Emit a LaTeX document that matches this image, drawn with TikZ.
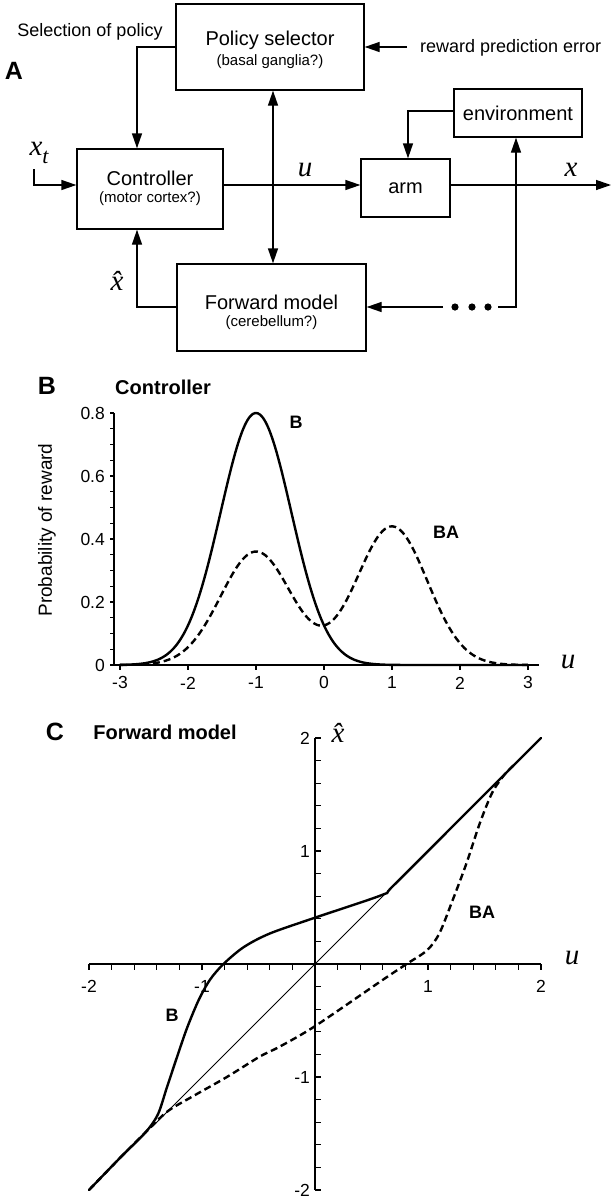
\documentclass[tikz,border=0pt]{standalone}
\usepackage{fontspec}
\setmainfont{Liberation Sans}
\newfontfamily\tms{Liberation Serif}
\usetikzlibrary{arrows.meta}
\begin{document}
\begin{tikzpicture}[x=1pt,y=-1pt,
  box/.style={draw, line width=1.3pt, inner sep=0pt},
  lbl/.style={font=\fontsize{20}{22}\selectfont, inner sep=0pt},
  sub/.style={font=\fontsize{15}{17}\selectfont, inner sep=0pt},
  side/.style={font=\fontsize{18}{20}\selectfont, inner sep=0pt},
  panel/.style={font=\fontsize{25}{28}\selectfont\bfseries, inner sep=0pt},
  ptitle/.style={font=\fontsize{20}{22}\selectfont\bfseries, inner sep=0pt},
  clabel/.style={font=\fontsize{18}{20}\selectfont\bfseries, inner sep=0pt},
  ticklbl/.style={font=\fontsize{17.5}{19}\selectfont, inner sep=0pt},
  mathl/.style={font=\fontsize{29}{31}\selectfont\tms\itshape, inner sep=0pt},
  conn/.style={line width=1.3pt, -{Triangle[length=15pt,width=10pt]}},
  dconn/.style={line width=1.3pt, {Triangle[length=15pt,width=10pt]}-{Triangle[length=15pt,width=10pt]}},
  axisl/.style={line width=1.2pt},
  curve/.style={line width=2.4pt, line join=round, line cap=round},
  dcurve/.style={line width=2.4pt, dash pattern=on 7pt off 4pt, line join=round},
  thinl/.style={line width=0.8pt},
  dot/.style={circle, fill=black, inner sep=0pt, minimum size=7.2pt},
]
\useasboundingbox (0,0) rectangle (616,1200);

% ---------------- Panel A ----------------
\node[panel] (lA) at (14,71) {A};
\node[side] (sel) at (90,32) {Selection of policy};

\node[box, minimum width=188pt, minimum height=86pt] (policy) at (270,47) {};
\node[lbl] (policyT) at (270,40) {Policy selector};
\node[sub] (policyS) at (270,62) {(basal ganglia?)};

\node[box, minimum width=146pt, minimum height=80pt] (controller) at (150,189) {};
\node[lbl] (controllerT) at (150,178) {Controller};
\node[sub] (controllerS) at (150,199) {(motor cortex?)};

\node[box, minimum width=89pt, minimum height=58pt, font=\fontsize{20}{22}\selectfont] (arm) at (405.5,188) {arm};
\node[box, minimum width=128pt, minimum height=48pt, font=\fontsize{20}{22}\selectfont] (env) at (518,113) {environment};

\node[box, minimum width=189pt, minimum height=87pt] (fwd) at (271.5,307.5) {};
\node[lbl] (fwdT) at (271.5,302) {Forward model};
\node[sub] (fwdS) at (271.5,323) {(cerebellum?)};

\node[side, anchor=west] (rpe) at (420,48) {reward prediction error};

\coordinate (colL) at (137,0);
\coordinate (colV) at (273,0);
\coordinate (colE) at (408,0);
\coordinate (colR) at (516,0);
\coordinate (rowMain) at (0,185);
\coordinate (rowFb) at (0,307);
\coordinate (rowEnv) at (0,111);
\coordinate (rpeS) at (407,47);
\coordinate (xtS) at (34,169);
\coordinate (xEnd) at (611,185);
\coordinate (dotsE) at (498,307);
\coordinate (dotsW) at (443,307);

\draw[conn] (rpeS) -- (policy.east |- rpeS);
\draw[conn] (policy.west) -| (controller.north -| colL);
\draw[conn] (xtS) |- (controller.west |- rowMain);
\draw[conn] (controller.east |- rowMain) -- (arm.west |- rowMain);
\draw[conn] (arm.east |- rowMain) -- (xEnd);
\draw[dconn] (policy.south -| colV) -- (fwd.north -| colV);
\draw[conn] (env.west |- rowEnv) -| (arm.north -| colE);
\draw[conn] (dotsE) -| (env.south -| colR);
\draw[conn] (dotsW) -- (fwd.east |- rowFb);
\draw[conn] (fwd.west |- rowFb) -| (controller.south -| colL);

\node[dot] (d1) at (455,307) {};
\node[dot] (d2) at (472,307) {};
\node[dot] (d3) at (488,307) {};

\node[mathl] (xtL) at (39,153) {x\raisebox{-0.3em}{\fontsize{22}{22}\selectfont t}};
\node[mathl] (uA) at (305,170) {u};
\node[mathl] (xA) at (571,170) {x};
\node[mathl] (xhA) at (117,281) {\^{x}};

% ---------------- Panel B ----------------
\node[panel] (lB) at (47,386) {B};
\node[ptitle] (tB) at (163,387) {Controller};
\node[rotate=90, font=\fontsize{19}{21}\selectfont, inner sep=0pt] (ylB) at (47,530) {Probability of reward};

\begin{scope}[shift={(324,665)}, xscale=68, yscale=-315]
  \draw[axisl] (-3.088,0.8) -- (-3.088,0) -- (3.16,0);
  \foreach \p in {0,0.05,...,0.81} \draw[axisl] (-3.088,\p) -- (-3.154,\p);
  \foreach \u in {-3,...,3} \draw[axisl] (\u,0) -- (\u,-0.016);
  \foreach \p [count=\k] in {0,0.2,0.4,0.6,0.8}
    \node[ticklbl, anchor=east] (bY\k) at (-3.22,\p) {\p};
  \foreach \u [count=\k] in {-3,-2,-1,0,1,2,3}
    \node[ticklbl] (bX\k) at (\u,-0.057) {\u};
  \draw[dcurve] plot[domain=-3:3, samples=161, smooth]
    (\x, {0.36*exp(-1.85*(\x+1)*(\x+1)) + 0.44*exp(-1.85*(\x-1)*(\x-1))});
  \draw[curve] plot[domain=-3:3, samples=161, smooth]
    (\x, {0.8*exp(-1.85*(\x+1)*(\x+1))});
\end{scope}
\node[mathl] (uB) at (568,662) {u};
\node[clabel] (cB) at (296,422) {B};
\node[clabel] (cBA) at (446,532) {BA};

% ---------------- Panel C ----------------
\node[panel] (lC) at (55,732) {C};
\node[ptitle] (tC) at (165,732) {Forward model};

\begin{scope}[shift={(315,964)}, xscale=113, yscale=-113]
  \draw[axisl] (-2,0) -- (2,0);
  \draw[axisl] (0,-2) -- (0,2);
  \foreach \i in {-10,...,10} {
    \draw[axisl] (\i/5,0) -- (\i/5,-0.049);
    \draw[axisl] (0,\i/5) -- (0.049,\i/5);
  }
  \foreach \u [count=\k] in {-2,-1,1,2}
    \node[ticklbl] (cX\k) at (\u,-0.2) {\u};
  \foreach \v [count=\k] in {-2,-1,1,2}
    \node[ticklbl, anchor=east] (cY\k) at (-0.044,\v) {\v};
  \draw[dcurve] plot[smooth, tension=0.5] coordinates {
    (-2,-2) (-1.72,-1.71) (-1.46,-1.45) (-1.3,-1.3) (-1.08,-1.17) (-0.78,-1.0) (-0.49,-0.82)
    (-0.31,-0.73) (0,-0.55) (0.6,-0.14) (0.81,0) (0.99,0.12) (1.1,0.27)
    (1.22,0.57) (1.34,0.89) (1.46,1.25) (1.57,1.52) (1.68,1.68) (1.76,1.76)};
  \draw[thinl] (-1.44,-1.44) -- (0.62,0.62);
  \draw[curve] plot[smooth, tension=0.5] coordinates {
    (-2,-2) (-1.72,-1.71) (-1.5,-1.49) (-1.39,-1.33) (-1.31,-1.09) (-1.21,-0.79) (-1.13,-0.56)
    (-1.03,-0.32) (-0.93,-0.14) (-0.81,0) (-0.63,0.15) (-0.4,0.27)
    (0,0.41) (0.59,0.61) (0.69,0.69) (1.3,1.3) (2,2)};
\end{scope}
\node[mathl] (xhC) at (338,733) {\^{x}};
\node[mathl] (uC) at (572,958) {u};
\node[clabel] (cBc) at (172,1015) {B};
\node[clabel] (cBAc) at (482,912) {BA};
\end{tikzpicture}
\end{document}
